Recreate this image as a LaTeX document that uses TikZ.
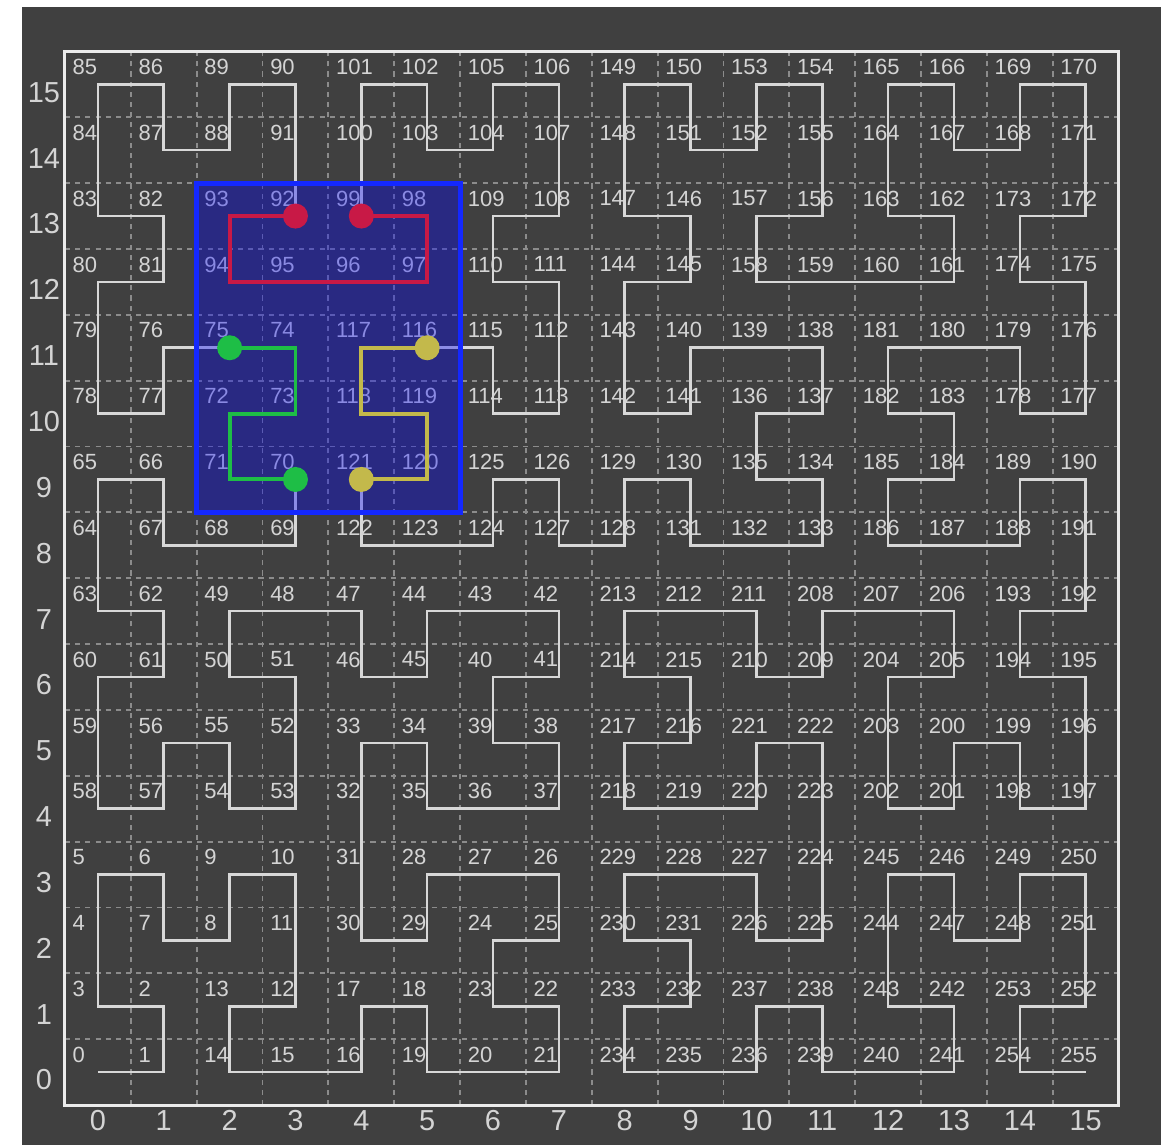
\documentclass[tikz,border=0pt]{standalone}
\usepackage{fontspec}
\setmainfont{Liberation Sans}
\usepackage{tikz}
\usetikzlibrary{positioning}

\definecolor{bgdark}{RGB}{64,64,64}
\definecolor{curvegray}{RGB}{216,216,216}
\definecolor{labelgray}{RGB}{212,212,212}
\definecolor{gridgray}{RGB}{140,140,140}
\definecolor{selblue}{RGB}{20,40,255}
\definecolor{segred}{RGB}{200,25,70}
\definecolor{seggreen}{RGB}{30,190,70}
\definecolor{segyellow}{RGB}{195,185,75}

\newcount\hilx \newcount\hily \newcount\hilt
\newcount\hilrx \newcount\hilry \newcount\hiltmp
\def\hilstep#1{%
  \hiltmp=\hilt \divide\hiltmp by 2
  \ifodd\hiltmp \hilrx=1 \else \hilrx=0 \fi
  \hiltmp=\hilt \advance\hiltmp by \hilrx
  \ifodd\hiltmp \hilry=1 \else \hilry=0 \fi
  \ifnum\hilry=0
    \ifnum\hilrx=1
      \hilx=\numexpr#1-1-\hilx\relax
      \hily=\numexpr#1-1-\hily\relax
    \fi
    \hiltmp=\hilx \hilx=\hily \hily=\hiltmp
  \fi
  \advance\hilx by \numexpr#1*\hilrx\relax
  \advance\hily by \numexpr#1*\hilry\relax
  \divide\hilt by 4
}
\def\hilcell#1{\hilx=0 \hily=0 \hilt=#1\relax
  \hilstep1\hilstep2\hilstep4\hilstep8}

\tikzset{
  hilbert/.style={
    draw = curvegray,
    line width = 1.1pt
  },
  gridline/.style={
    draw = gridgray,
    line width = 0.8pt,
    dash pattern = on 2.2pt off 2.2pt
  },
  cellnum/.style={
    anchor = north west,
    inner sep = 0pt,
    text = labelgray,
    font = \fontsize{9.5}{11}\selectfont
  },
  axisnum/.style={
    inner sep = 0pt,
    text = labelgray,
    font = \fontsize{12.5}{14}\selectfont
  },
  outerframe/.style={
    draw = white!92!black,
    line width = 1.3pt
  },
  selbox/.style={
    draw = selblue,
    fill = blue,
    fill opacity = 0.35,
    line width = 2.2pt
  },
  segpath/.style={
    line width = 1.7pt
  },
  enddot/.style={
    shape = circle,
    inner sep = 0pt,
    minimum size = 0.38cm
  }
}

\begin{document}
\begin{tikzpicture}
    \useasboundingbox (-1.487,-1.107) rectangle (16.265,16.281);
    \fill[white] (-1.487,-1.107) rectangle (16.265,16.281);
    \fill[bgdark] (-1.153,-1.107) rectangle (16.144,16.174);
    \foreach \i in {0.5,1.5,...,14.5} {
        \draw[gridline] (\i,-0.5) -- (\i,15.5);
        \draw[gridline] (-0.5,\i) -- (15.5,\i);
    }
    \foreach \d in {0,...,255} {
        \hilcell{\d}
        \coordinate (c\d) at (\the\hilx,\the\hily);
    }
    \draw[hilbert] (c0) \foreach \d in {1,...,255} { -- (c\d) };
    \foreach \d in {0,...,255} {
        \node[cellnum] (n\d) at ([shift={(-0.39,0.39)}]c\d) {\d};
    }
    \foreach \i in {0,...,15} {
        \node[axisnum] (ax\i) at (\i,-0.73) {\i};
        \node[axisnum] (ay\i) at (-0.82,\i-0.12) {\i};
    }
    \draw[selbox] (1.5,8.5) rectangle (5.5,13.5);
    \draw[segpath, segred] (c92) \foreach \d in {93,...,99} { -- (c\d) };
    \draw[segpath, seggreen] (c75) \foreach \d in {74,73,72,71,70} { -- (c\d) };
    \draw[segpath, segyellow] (c116) \foreach \d in {117,...,121} { -- (c\d) };
    \node[enddot, fill=segred] (r1) at (c92) {};
    \node[enddot, fill=segred] (r2) at (c99) {};
    \node[enddot, fill=seggreen] (g1) at (c75) {};
    \node[enddot, fill=seggreen] (g2) at (c70) {};
    \node[enddot, fill=segyellow] (y1) at (c116) {};
    \node[enddot, fill=segyellow] (y2) at (c121) {};
    \draw[outerframe] (-0.5,-0.5) rectangle (15.5,15.5);
\end{tikzpicture}
\end{document}
